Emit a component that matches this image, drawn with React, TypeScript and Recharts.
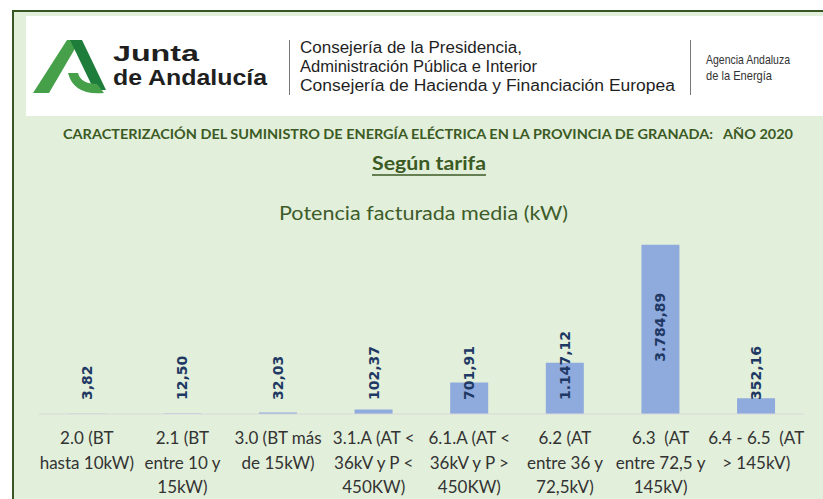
import { BarChart, Bar, XAxis, YAxis, LabelList } from 'recharts';

// categorías (tarifas), una línea por "\n"
const categories = [
  '2.0 (BT\nhasta 10kW)',
  '2.1 (BT\nentre 10 y\n15kW)',
  '3.0 (BT más\nde 15kW)',
  '3.1.A (AT <\n36kV y P <\n450KW)',
  '6.1.A (AT <\n36kV y P >\n450KW)',
  '6.2 (AT\nentre 36 y\n72,5kV)',
  '6.3  (AT\nentre 72,5 y\n145kV)',
  '6.4 - 6.5  (AT\n> 145kV)',
];

// potencia facturada media (kW)
const potencia = [3.82, 12.5, 32.03, 102.37, 701.91, 1147.12, 3784.89, 352.16];

const yTicks = [0, 4000];

const data = categories.map((c, i) => ({ tarifa: c, potencia: potencia[i] }));

// formato español: 1.147,12
const fmt = (v: number) => {
  const [ent, dec] = v.toFixed(2).split('.');
  return ent.replace(/\B(?=(\d{3})+(?!\d))/g, '.') + ',' + dec;
};

const GREEN = '#3b5a24';
const NARROW = "'Liberation Sans', Arial, sans-serif";

const CategoryTick = (props: any) => {
  const { x, y, payload } = props;
  const lines = String(payload.value).split('\n');
  return (
    <text
      x={x}
      y={y}
      textAnchor="middle"
      fill="#333"
      fontFamily="Lato, 'Open Sans', sans-serif"
      fontSize={17}
    >
      {lines.map((l, i) => (
        <tspan key={i} x={x} dy={i === 0 ? 30 : 24.5} style={{ whiteSpace: 'pre' }}>
          {l}
        </tspan>
      ))}
    </text>
  );
};

const ValueLabel = (props: any) => {
  const { x, y, width, height, value } = props;
  const cx = x + width / 2;
  const base = y + height;
  const big = height > 120;
  const ly = big ? y + height / 2 - 2 : base - 14;
  return (
    <text
      x={cx}
      y={ly}
      transform={`rotate(-90 ${cx} ${ly})`}
      textAnchor={big ? 'middle' : 'start'}
      dominantBaseline="central"
      fill="#203864"
      fontFamily="'DejaVu Sans', sans-serif"
      fontWeight="bold"
      fontSize={14}
    >
      {fmt(Number(value))}
    </text>
  );
};

function Header() {
  return (
    <svg width={823} height={240} style={{ position: 'absolute', left: 0, top: 0 }}>
      {/* logo */}
      <polygon points="33,93 49,93 80,40 67,40" fill="#46a04a" />
      <polygon points="70,40 82,40 106,90 94,90" fill="#1e7d3a" />
      <path d="M68 73 L78 73 Q81 84 97 84 L104 93 Q74 96 68 73 Z" fill="#46a04a" />
      <text fontFamily={NARROW} fontWeight="bold" fontSize={22} fill="#1f1f1f">
        <tspan x={113} y={61} textLength={86} lengthAdjust="spacingAndGlyphs">Junta</tspan>
        <tspan x={113} y={85} textLength={154} lengthAdjust="spacingAndGlyphs">de Andalucía</tspan>
      </text>
      <line x1={289.5} y1={40} x2={289.5} y2={95} stroke="#777" strokeWidth={1} />
      <text fontFamily={NARROW} fontSize={16} fill="#1f1f1f">
        <tspan x={300} y={53} textLength={222} lengthAdjust="spacingAndGlyphs">Consejería de la Presidencia,</tspan>
        <tspan x={300} y={72} textLength={237} lengthAdjust="spacingAndGlyphs">Administración Pública e Interior</tspan>
        <tspan x={300} y={91} textLength={375} lengthAdjust="spacingAndGlyphs">Consejería de Hacienda y Financiación Europea</tspan>
      </text>
      <line x1={690.5} y1={40} x2={690.5} y2={95} stroke="#777" strokeWidth={1} />
      <text fontFamily={NARROW} fontSize={13} fill="#333">
        <tspan x={706} y={64} textLength={84} lengthAdjust="spacingAndGlyphs">Agencia Andaluza</tspan>
        <tspan x={706} y={80} textLength={66} lengthAdjust="spacingAndGlyphs">de la Energía</tspan>
      </text>
      {/* títulos */}
      <text x={63} y={139} fontFamily="Lato, sans-serif" fontWeight="bold" fontSize={13.5} fill={GREEN} textLength={730} lengthAdjust="spacingAndGlyphs" style={{ whiteSpace: 'pre' }}>
        CARACTERIZACIÓN DEL SUMINISTRO DE ENERGÍA ELÉCTRICA EN LA PROVINCIA DE GRANADA:   AÑO 2020
      </text>
      <text x={372} y={170} fontFamily="Lato, sans-serif" fontWeight="bold" fontSize={19} fill={GREEN} textLength={114} lengthAdjust="spacingAndGlyphs">Según tarifa</text>
      <line x1={372} y1={175} x2={486} y2={175} stroke={GREEN} strokeWidth={1.5} />
      <text x={279} y={220} fontFamily="Lato, sans-serif" fontSize={19.5} fill="#3d5c2a" textLength={289} lengthAdjust="spacingAndGlyphs">Potencia facturada media (kW)</text>
    </svg>
  );
}

export default function App() {
  return (
    <div style={{ position: 'absolute', left: 0, top: 0, width: 823, height: 499, overflow: 'hidden', background: '#fff' }}>
      <div
        style={{
          position: 'absolute',
          left: 12,
          top: 10,
          width: 840,
          height: 520,
          border: '2px solid #375623',
          background: '#e2efda',
        }}
      />
      <div style={{ position: 'absolute', left: 26, top: 16, width: 820, height: 100, background: '#fff' }} />
      <Header />
      <div style={{ position: 'absolute', left: 0, top: 0 }}>
        <BarChart
          width={823}
          height={499}
          data={data}
          margin={{ top: 235, right: 19, bottom: 10, left: 39 }}
          barCategoryGap="30%"
        >
          <XAxis
            dataKey="tarifa"
            interval={0}
            height={75}
            tickLine={false}
            tickSize={0}
            tickMargin={0}
            axisLine={{ stroke: '#d9d9d9' }}
            tick={<CategoryTick />}
          />
          <YAxis hide domain={[0, 4000]} ticks={yTicks} />
          <Bar dataKey="potencia" fill="#8faadc" isAnimationActive={false}>
            <LabelList dataKey="potencia" content={<ValueLabel />} />
          </Bar>
        </BarChart>
      </div>
    </div>
  );
}
